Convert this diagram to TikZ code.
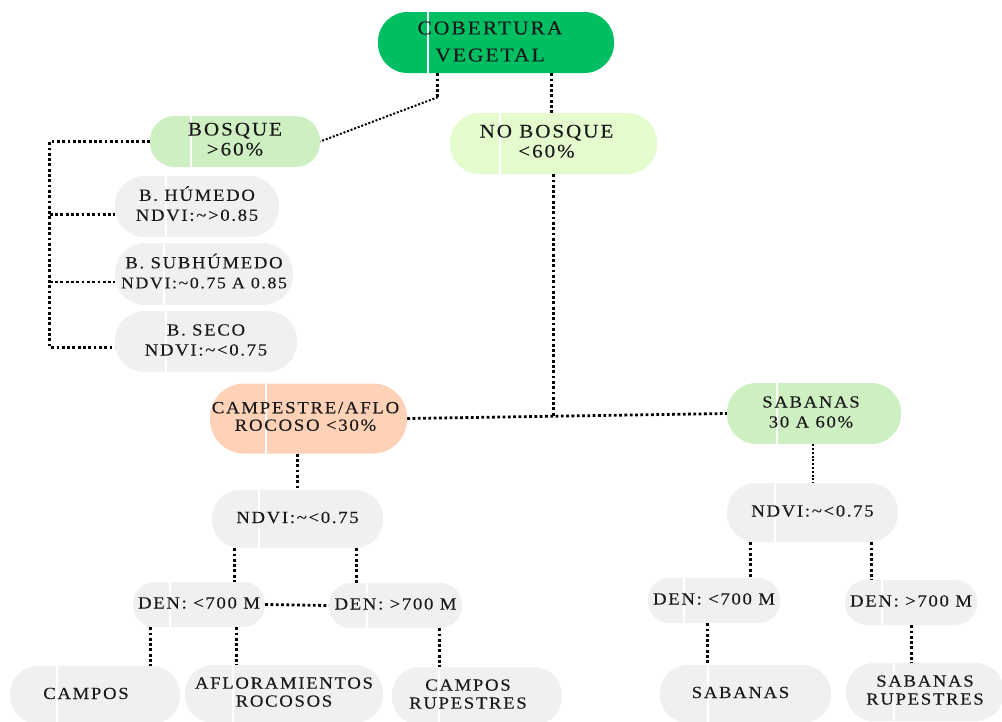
\documentclass[tikz,border=0pt]{standalone}
\usepackage{fontspec}
\setmainfont{Liberation Serif}[LetterSpace=10, FakeStretch=1.1, FakeBold=0.2]
\usetikzlibrary{calc}
\definecolor{rootg}{HTML}{00BF63}
\definecolor{bosg}{HTML}{CEEFC1}
\definecolor{nobg}{HTML}{E4FBCD}
\definecolor{peach}{HTML}{FFD2B8}
\definecolor{greyf}{HTML}{F0F0F0}
\definecolor{txt}{HTML}{1A1A1A}
\newcommand\fa{\fontsize{19.6}{27}\selectfont}
\newcommand\fb{\fontsize{19.2}{20}\selectfont}
\newcommand\fc{\fontsize{17}{20}\selectfont}
\newcommand\fd{\fontsize{17.1}{17.5}\selectfont}
\newcommand\fe{\fontsize{17}{18}\selectfont}
\newcommand\tx[2]{\kern#1pt\begin{tabular}{@{}c@{}}#2\end{tabular}}
\tikzset{
  pill/.style n args={4}{shape=rectangle, inner sep=0pt, minimum width=#1pt,
    minimum height=#2pt, fill=#3, draw=none, text=txt,
    rounded corners={#2*0.5pt-1pt},
    path picture={\draw[white, line width=1.8pt, sharp corners]
      ([xshift=#4pt]path picture bounding box.north west) --
      ([xshift=#4pt]path picture bounding box.south west);}},
  conn/.style={draw=black, line width=2.8pt, dash pattern=on 2.8pt off 2.5pt},
  thinconn/.style={draw=black, line width=2pt, dash pattern=on 2pt off 1.8pt},
}
\begin{document}
\begin{tikzpicture}[x=1pt, y=-1pt]
\useasboundingbox (0,0) rectangle (1002,721);

% level 0-1
\node[pill={236}{61}{rootg}{50}, font=\fa] (root) at (496,42.5) {\tx{-12}{COBERTURA\\VEGETAL}};
\node[pill={170}{51}{bosg}{41}, font=\fb] (bosque) at (235,141.5) {\tx{0}{BOSQUE\\{>}60\%}};
\node[pill={207}{61}{nobg}{50}, font=\fb] (nob) at (553.5,143.5) {\tx{-14}{NO BOSQUE\\{<}60\%}};

% bosque children
\node[pill={164}{61}{greyf}{51}, font=\fc] (hum) at (197,206.5) {\tx{0}{B. HÚMEDO\\NDVI:\textasciitilde{>}0.85}};
\node[pill={178}{62}{greyf}{49}, font=\fc] (sub) at (204,274) {\tx{0}{B. SUBHÚMEDO\\{\fontsize{16.2}{20}\selectfont NDVI:\textasciitilde0.75 A 0.85}}};
\node[pill={182}{61}{greyf}{51}, font=\fc] (seco) at (206,341.5) {\tx{0}{B. SECO\\NDVI:\textasciitilde{<}0.75}};

% level 2
\node[pill={197}{70}{peach}{56}, font=\fd] (camp) at (308.5,418.5) {\tx{-6}{CAMPESTRE/AFLO\\ROCOSO {<}30\%}};
\node[pill={174}{61}{bosg}{50}, font=\fc] (sab) at (814,413.5) {\tx{-6}{SABANAS\\30 A 60\%}};

% NDVI
\node[pill={171}{58}{greyf}{47}, font=\fc] (ndviL) at (297.5,519) {\tx{0}{NDVI:\textasciitilde{<}0.75}};
\node[pill={171}{59}{greyf}{48}, font=\fc] (ndviR) at (812.5,512.5) {\tx{0}{NDVI:\textasciitilde{<}0.75}};

% DEN
\node[pill={132}{45}{greyf}{37}, font=\fc] (denL1) at (199,604.5) {\tx{0}{DEN: {<}700 M}};
\node[pill={133}{45}{greyf}{38}, font=\fc] (denL2) at (395.5,605.5) {\tx{0}{DEN: {>}700 M}};
\node[pill={132}{45}{greyf}{36}, font=\fc] (denR1) at (714,600.5) {\tx{0}{DEN: {<}700 M}};
\node[pill={132}{45}{greyf}{37}, font=\fc] (denR2) at (911,602.5) {\tx{0}{DEN: {>}700 M}};

% leaves
\node[pill={170}{58}{greyf}{47}, font=\fc] (campos) at (95,695) {\tx{-18}{CAMPOS}};
\node[pill={198}{58}{greyf}{48}, font=\fe] (aflor) at (284,694) {\tx{0}{AFLORAMIENTOS\\ROCOSOS}};
\node[pill={170}{58}{greyf}{47}, font=\fe] (camprup) at (477,696) {\tx{-18}{CAMPOS\\RUPESTRES}};
\node[pill={171}{58}{greyf}{48}, font=\fc] (sabanas) at (745.5,694) {\tx{-10}{SABANAS}};
\node[pill={158}{58}{greyf}{48}, font=\fe] (sabrup) at (925,692) {\tx{0}{SABANAS\\RUPESTRES}};

% connectors
\coordinate (r1) at ([xshift=60pt]root.south west);
\coordinate (r2) at ($(r1)+(0,24)$);
\draw[conn] (r1) -- (r2);
\draw[thinconn] (r2) -- (bosque.east);
\coordinate (r3) at ([xshift=174pt]root.south west);
\draw[conn] (r3) -- (r3 |- nob.north);

\draw[conn] (camp.east) -- (sab.west);
\path (camp.east) -- (sab.west) coordinate[pos=0.459] (j);
\draw[conn] (nob.south) -- (nob.south |- j);

\coordinate (b0) at ([xshift=-100pt]bosque.west);
\coordinate (b1) at ([yshift=-8pt]hum.west);
\coordinate (b2) at ([yshift=-8pt]sub.west);
\coordinate (b3) at ([yshift=-6pt]seco.west);
\draw[conn] (bosque.west) -- (b0) -- (b0 |- b3) -- (b3);
\draw[conn] (b0 |- b1) -- (b1);
\draw[conn] (b0 |- b2) -- (b2);

\draw[conn] (ndviL.north |- camp.south) -- (ndviL.north);
\coordinate (n1) at ([xshift=23pt]ndviL.south west);
\coordinate (n2) at ([xshift=145pt]ndviL.south west);
\draw[conn] (n1) -- (n1 |- denL1.north);
\draw[conn] (n2) -- (n2 |- denL2.north);
\draw[conn] (denL1.east) -- (denL2.west);
\coordinate (d1) at ([xshift=18pt]denL1.south west);
\coordinate (d2) at ([xshift=104pt]denL1.south west);
\coordinate (d3) at ([xshift=111pt]denL2.south west);
\draw[conn] (d1) -- (d1 |- campos.north);
\draw[conn] (d2) -- (d2 |- aflor.north);
\draw[conn] (d3) -- (d3 |- camprup.north);

\draw[thinconn] (ndviR.north |- sab.south) -- (ndviR.north);
\coordinate (n3) at ([xshift=24pt]ndviR.south west);
\coordinate (n4) at ([xshift=145pt]ndviR.south west);
\draw[conn] (n3) -- (n3 |- denR1.north);
\draw[conn] (n4) -- (n4 |- denR2.north);
\coordinate (d4) at ([xshift=60pt]denR1.south west);
\coordinate (d5) at ([xshift=67pt]denR2.south west);
\draw[conn] (d4) -- (d4 |- sabanas.north);
\draw[conn] (d5) -- (d5 |- sabrup.north);
\end{tikzpicture}
\end{document}
